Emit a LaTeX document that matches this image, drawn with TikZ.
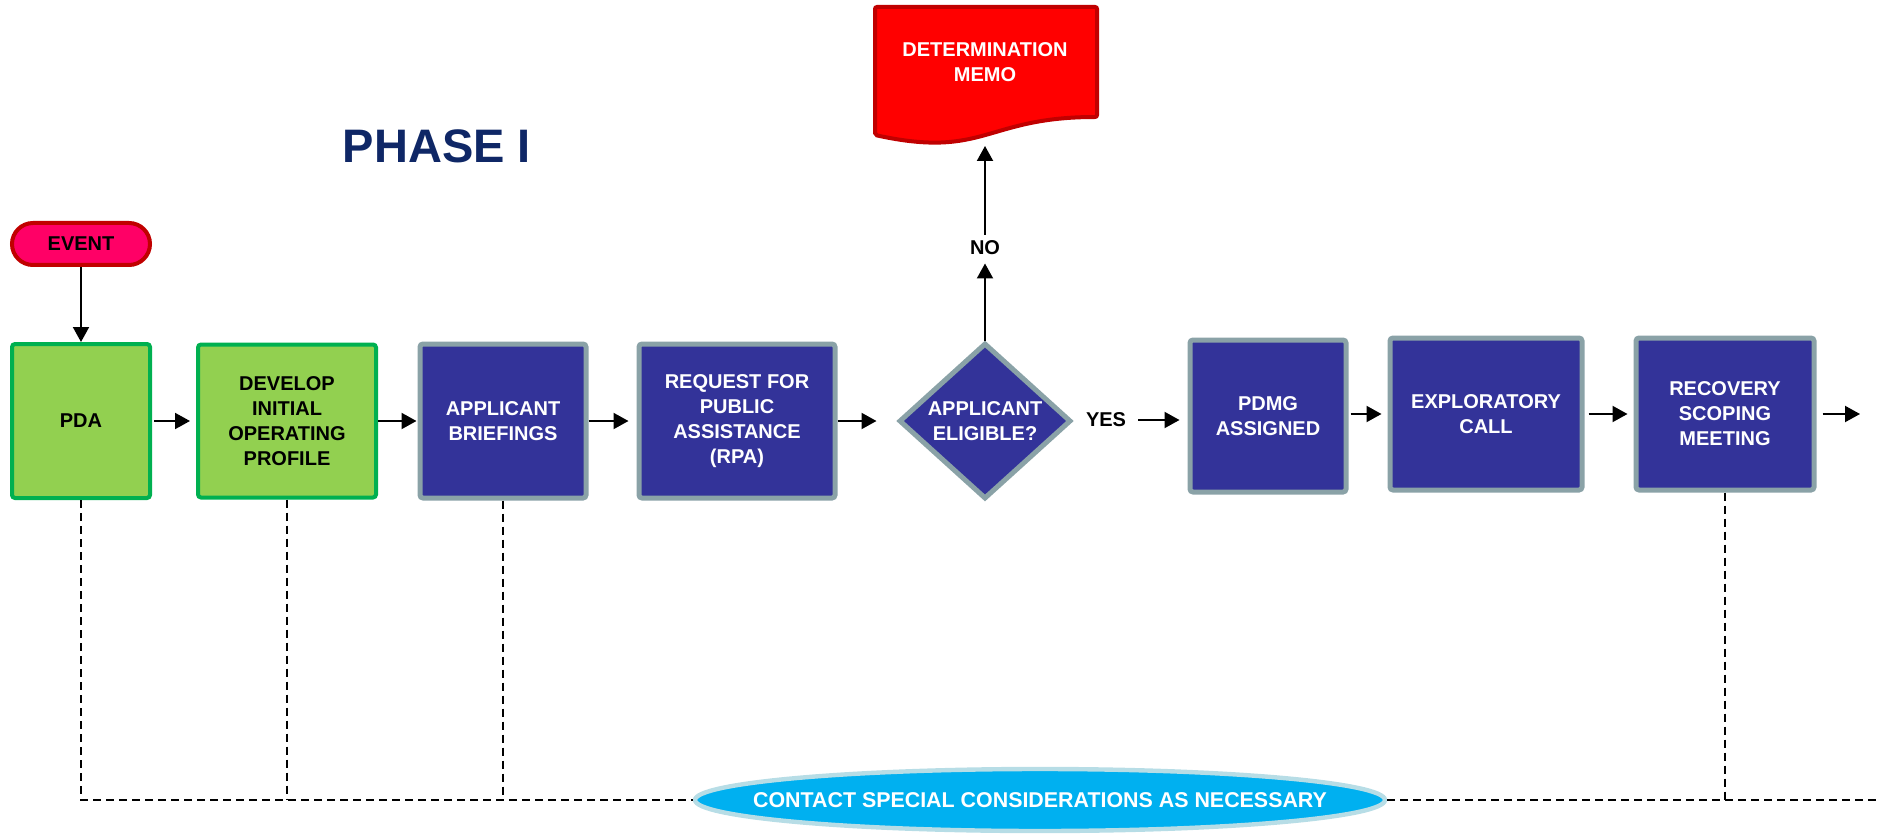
\documentclass[tikz,border=0pt]{standalone}
\usepackage{fontspec}
\setmainfont{Liberation Sans}
\usetikzlibrary{shapes.geometric,arrows.meta}

\definecolor{procblue}{HTML}{333399}
\definecolor{procedge}{HTML}{8AA2A7}
\definecolor{startgreen}{HTML}{92D050}
\definecolor{startedge}{HTML}{00B050}
\definecolor{eventfill}{HTML}{FF0066}
\definecolor{darkred}{HTML}{C00000}
\definecolor{memofill}{HTML}{FF0000}
\definecolor{contactfill}{HTML}{00B0F0}
\definecolor{contactedge}{HTML}{B7DDE6}
\definecolor{phasenavy}{HTML}{0F2766}

\tikzset{
  boxtext/.style={font=\bfseries\fontsize{10pt}{12.5pt}\selectfont, align=center, inner sep=0pt},
  greenbox/.style={boxtext, rectangle, rounded corners=1.5pt, draw=startedge, line width=2pt,
    fill=startgreen, text=black},
  bluebox/.style={boxtext, rectangle, rounded corners=1.5pt, draw=procedge, line width=2.5pt,
    fill=procblue, text=white},
  flow/.style={line width=1pt, -{Triangle[length=7.5pt,width=8pt]}},
  link/.style={line width=0.9pt, dash pattern=on 4pt off 2.5pt},
  plainlabel/.style={boxtext, text=black}
}

\begin{document}
\begin{tikzpicture}[x=0.5pt, y=-0.5pt]
  \useasboundingbox (0,0) rectangle (1878,834);

  % heading
  \node[font=\bfseries\fontsize{23.5pt}{28pt}\selectfont, text=phasenavy] (phase) at (437,146) {PHASE I};

  % start event
  \node[boxtext, draw=darkred, line width=2pt, fill=eventfill, rounded corners=10.5pt,
        minimum width=69pt, minimum height=21pt] (event) at (81,244) {EVENT};

  % main row of steps
  \node[greenbox, minimum width=69pt, minimum height=77pt] (pda) at (81,421) {PDA};
  \node[greenbox, minimum width=89pt, minimum height=76.5pt] (dev) at (287,421) {DEVELOP\\INITIAL\\OPERATING\\PROFILE};
  \node[bluebox, minimum width=83pt, minimum height=77pt] (brief) at (503,421) {APPLICANT\\BRIEFINGS};
  \node[bluebox, minimum width=98pt, minimum height=77pt] (rpa) at (737,421) {REQUEST FOR\\PUBLIC\\ASSISTANCE\\(RPA)};
  \node[bluebox, diamond, rounded corners=0pt, minimum width=86pt, minimum height=78pt] (elig) at (985,421) {APPLICANT\\ELIGIBLE?};
  \node[plainlabel] (yes) at (1106,420) {YES};
  \node[plainlabel] (no) at (985,248) {NO};
  \node[bluebox, minimum width=78pt, minimum height=76pt] (pdmg) at (1268,416) {PDMG\\ASSIGNED};
  \node[bluebox, minimum width=96pt, minimum height=76pt] (expl) at (1486,414) {EXPLORATORY\\CALL};
  \node[bluebox, minimum width=89pt, minimum height=76pt] (rec) at (1725,414) {RECOVERY\\SCOPING\\MEETING};
  \coordinate (next) at (1860,414);

  % determination memo (document shape)
  \filldraw[fill=memofill, draw=darkred, line width=2pt, rounded corners=1pt]
    (875,7) -- (1097,7) -- (1097,117)
    .. controls (985,117) and (985,159) .. (875,135) -- cycle;
  \node[boxtext, text=white] (memo) at (985,62) {DETERMINATION\\MEMO};
  \coordinate (memobase) at (985,136);

  % special considerations
  \node[boxtext, ellipse, draw=contactedge, line width=2.2pt, fill=contactfill, text=white,
        font=\bfseries\fontsize{10.7pt}{12.5pt}\selectfont,
        inner xsep=-22pt, inner ysep=0pt,
        minimum width=345pt, minimum height=31pt] (contact) at (1040,800)
        {CONTACT SPECIAL CONSIDERATIONS AS NECESSARY};

  % flow connectors
  \draw[flow] (event) -- (pda);
  \draw[flow, shorten <=1pt, shorten >=3pt] (pda) -- (dev);
  \draw[flow, shorten >=0.5pt] (dev) -- (brief);
  \draw[flow, shorten >=4pt] (brief) -- (rpa);
  \draw[flow, shorten >=10pt] (rpa.east) -- (elig.west);
  \draw[flow, shorten <=6pt, shorten >=4pt] (yes.east) -- (pdmg.west |- yes.east);
  \draw[flow, shorten <=1pt, shorten >=3pt] (pdmg.east |- expl) -- (expl);
  \draw[flow, shorten <=2pt, shorten >=3pt] (expl) -- (rec);
  \draw[flow, shorten <=3pt] (rec.east) -- (next);
  \draw[flow, shorten >=4pt] (elig.north) -- (no.south);
  \draw[flow, shorten <=3pt, shorten >=5pt] (no.north) -- (memobase);

  % dashed coordination lines
  \coordinate (bl) at (81,800);
  \coordinate (br) at (1878,800);
  \draw[link] (pda.south) -- (bl) -- (contact.west);
  \draw[link] (dev.south) -- (dev.south |- bl);
  \draw[link] (brief.south) -- (brief.south |- bl);
  \draw[link] (contact.east) -- (br);
  \draw[link] (rec.south) -- (rec.south |- br);
\end{tikzpicture}
\end{document}
